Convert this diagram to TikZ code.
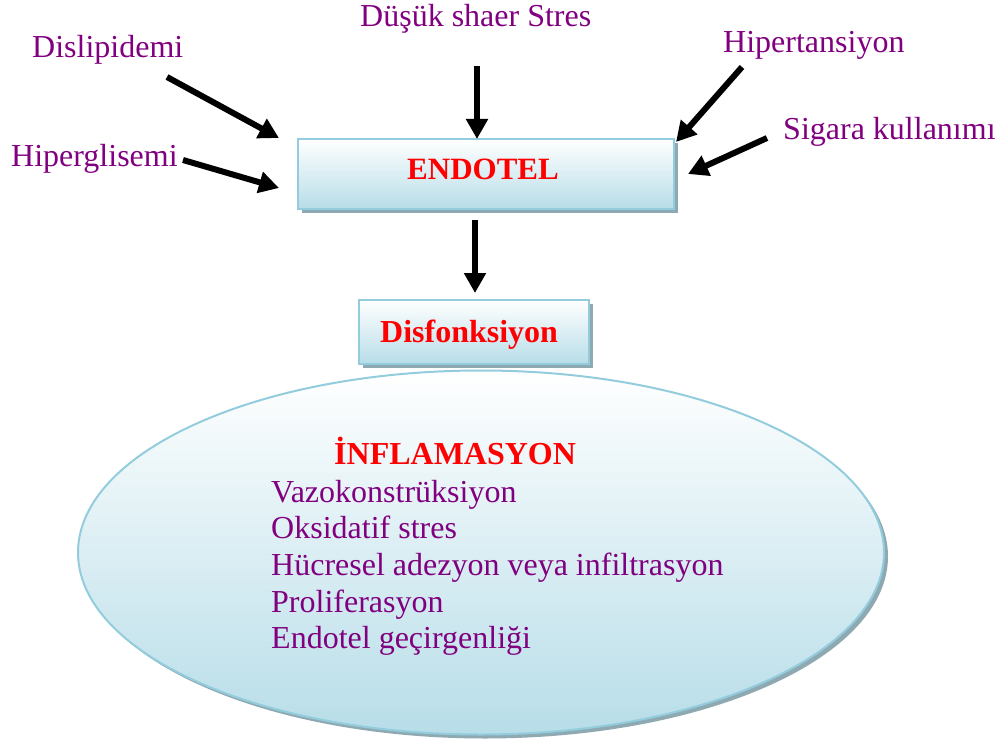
\documentclass[tikz,border=0pt]{standalone}
\usepackage{fontspec}
\setmainfont{Liberation Serif}
\usetikzlibrary{arrows.meta,shadows,shapes.geometric}
\definecolor{lblpurple}{HTML}{800080}
\definecolor{boxedge}{HTML}{93CDDD}
\definecolor{boxbot}{HTML}{B7DDE8}
\definecolor{shadowc}{HTML}{8FA9B2}
\tikzset{
  lbl/.style={anchor=base west, inner sep=0pt, text=lblpurple, font=\fontsize{32}{36}\selectfont},
  redlbl/.style={anchor=base west, inner sep=0pt, text=red, font=\fontsize{32}{36}\selectfont\bfseries},
  gradbox/.style={draw=boxedge, line width=2pt, top color=white, bottom color=boxbot,
     drop shadow={shadow xshift=4pt, shadow yshift=-4pt, fill=shadowc, opacity=1}},
  bigarrow/.style={line width=6pt, -{Triangle[width=21pt,length=20pt]}}
}
\begin{document}
\begin{tikzpicture}[x=1pt,y=-1pt]
\useasboundingbox (0,0) rectangle (1003,743);
% boxes
\node[gradbox, rectangle, minimum width=376pt, minimum height=70pt, inner sep=0pt] (endotel) at (486,174) {};
\node[gradbox, rectangle, minimum width=230pt, minimum height=64pt, inner sep=0pt] (disf) at (473.5,332) {};
\node[gradbox, ellipse, minimum width=806pt, minimum height=364pt, inner sep=0pt] (infl) at (481,552.5) {};
% box texts
\node[redlbl, font=\fontsize{31}{36}\selectfont\bfseries] (endoteltxt) at (407,180) {ENDOTEL};
\node[redlbl] (disftxt) at (380,342) {Disfonksiyon};
\node[redlbl] (infltxt) at (334,464) {İNFLAMASYON};
\node[lbl] (l1) at (271,502) {Vazokonstrüksiyon};
\node[lbl] (l2) at (271,538) {Oksidatif stres};
\node[lbl] (l3) at (271,575) {Hücresel adezyon veya infiltrasyon};
\node[lbl] (l4) at (271,612) {Proliferasyon};
\node[lbl] (l5) at (271,648) {Endotel geçirgenliği};
% outer labels
\node[lbl] (dus) at (360,27) {Düşük shaer Stres};
\node[lbl] (disl) at (32,58) {Dislipidemi};
\node[lbl] (hipg) at (11,167) {Hiperglisemi};
\node[lbl] (hipt) at (723,53) {Hipertansiyon};
\node[lbl] (sig) at (783,140) {Sigara kullanımı};
% arrow end points
\coordinate (a1s) at (167,77);  \coordinate (a1e) at (279,138);
\coordinate (a2s) at (183,160); \coordinate (a2e) at (279,188);
\coordinate (a3s) at (477,66);  \coordinate (a3e) at (477,139);
\coordinate (a4s) at (742,67);  \coordinate (a4e) at (676,142);
\coordinate (a5s) at (767,138); \coordinate (a5e) at (688,174);
\coordinate (a6s) at (475,220); \coordinate (a6e) at (475,293);
\draw[bigarrow] (a1s) -- (a1e);
\draw[bigarrow] (a2s) -- (a2e);
\draw[bigarrow] (a3s) -- (a3e);
\draw[bigarrow] (a4s) -- (a4e);
\draw[bigarrow] (a5s) -- (a5e);
\draw[bigarrow] (a6s) -- (a6e);
\end{tikzpicture}
\end{document}
